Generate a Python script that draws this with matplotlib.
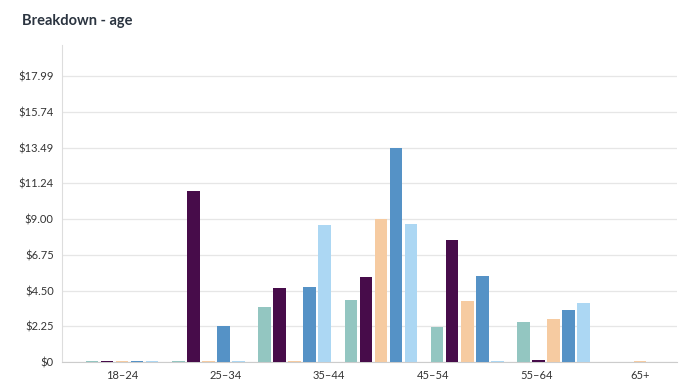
import numpy as np
import matplotlib
matplotlib.use('Agg')
import matplotlib.pyplot as plt

plt.rcParams['font.family'] = ['Lato', 'DejaVu Sans']

# 7 bar groups, 6 age labels spread evenly over them
age_labels = ['18–24', '25–34', '35–44', '45–54', '55–64', '65+']
series_colors = ['#93c6c1', '#470c4a', '#f6cba1', '#5592c6', '#acd7f3']

teal      = [0.06, 0.06, 3.44, 3.88, 2.18, 2.54, 0.0]
purple    = [0.06, 10.78, 4.66, 5.32, 7.65, 0.1, 0.0]
peach     = [0.06, 0.06, 0.06, 9.02, 3.84, 2.68, 0.06]
blue      = [0.06, 2.28, 4.72, 13.47, 5.43, 3.27, 0.0]
lightblue = [0.06, 0.06, 8.64, 8.70, 0.06, 3.73, 0.0]

y_max_tick = 17.99
y_tick_labels = ['$0', '$2.25', '$4.50', '$6.75', '$9.00', '$11.24', '$13.49', '$15.74', '$17.99']

series = [teal, purple, peach, blue, lightblue]

fig = plt.figure(figsize=(7, 3.88), dpi=100)
ax = fig.add_axes([62/700, 1-362/388, 615/700, 317/388])

x = np.arange(len(teal))
step = 0.174
w = 0.145
for i, (vals, c) in enumerate(zip(series, series_colors)):
    ax.bar(x + (i - 2) * step, vals, width=w, color=c, linewidth=0, zorder=3)

ax.set_xlim(-0.695, 6.43)
ax.set_ylim(0, 19.95)
ax.set_xticks(np.linspace(0, len(teal) - 1, len(age_labels)))
ax.set_xticklabels(age_labels)
ax.set_yticks(np.arange(9) * y_max_tick / 8)
ax.set_yticklabels(y_tick_labels)
ax.tick_params(axis='both', length=0, labelsize=8, colors='#333333')
ax.tick_params(axis='x', pad=6)
ax.tick_params(axis='y', pad=6)
ax.grid(axis='y', color='#e6e6e6', linewidth=0.9, zorder=0)
for s in ['top', 'right']:
    ax.spines[s].set_visible(False)
ax.spines['left'].set_color('#dddddd')
ax.spines['bottom'].set_color('#cccccc')

fig.text(22/700, 1-21/388, 'Breakdown - age', fontsize=10.5, fontweight='bold',
         color='#2b3440', va='center', ha='left')

fig.savefig('out.png', dpi=100)
